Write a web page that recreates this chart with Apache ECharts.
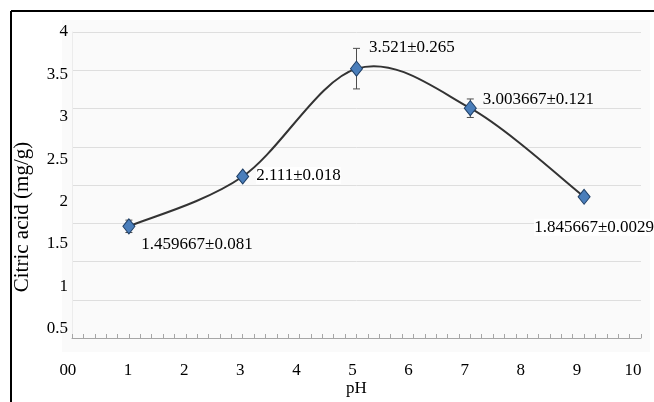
<!DOCTYPE html>
<html>
<head>
<meta charset="utf-8">
<script src="https://cdn.jsdelivr.net/npm/echarts@6/dist/echarts.min.js"></script>
<style>
  html, body { margin: 0; padding: 0; background: #fff; }
  #chart { width: 654px; height: 402px; }
</style>
</head>
<body>
<div id="chart"></div>
<script>
// Citric acid content at each pH, with standard deviations
const phValues = [1, 3, 5, 7, 9];
const citricAcid = [1.459667, 2.111, 3.521, 3.003667, 1.845667];
const stdDev = [0.081, 0.018, 0.265, 0.121, 0.0029];

// Axis ranges and tick steps
const xRange = [0, 10];
const xStep = 1;
const yRange = [0, 4];
const yStep = 0.5;

// Per-point label placement (offset from the marker)
const labelPlacement = [
  { position: 'right', offset: [1, 18] },
  { position: 'right', offset: [2, -1], backgroundColor: '#fff' },
  { position: 'right', offset: [1, -21] },
  { position: 'right', offset: [1, -9] },
  { position: 'bottom', offset: [10, 9], backgroundColor: '#fff' }
];

const FONT = '"Liberation Serif", "Times New Roman", serif';

const points = phValues.map((x, i) => ({
  value: [x, citricAcid[i]],
  label: Object.assign({
    show: true,
    formatter: citricAcid[i] + '\u00b1' + stdDev[i],
    color: '#000',
    fontFamily: FONT,
    fontSize: 17
  }, labelPlacement[i])
}));

const errorData = phValues.map((x, i) => [x, citricAcid[i], stdDev[i]]);
// one item per curve segment between consecutive points
const segmentData = phValues.slice(0, -1).map((x, i) => [x, citricAcid[i], i]);

const chart = echarts.init(document.getElementById('chart'), null, { renderer: 'canvas' });

chart.setOption({
  animation: false,
  backgroundColor: '#fff',
  textStyle: { fontFamily: FONT, color: '#000' },
  graphic: [
    // faint panel behind the plot
    { type: 'rect', z: -10, shape: { x: 62, y: 20, width: 588, height: 332 },
      style: { fill: '#fafafa' } },
    // frame lines
    { type: 'line', shape: { x1: 11, y1: 11, x2: 654, y2: 11 },
      style: { stroke: '#000', lineWidth: 2 } },
    { type: 'line', shape: { x1: 11, y1: 11, x2: 11, y2: 402 },
      style: { stroke: '#000', lineWidth: 2 } },
    // y axis title
    { type: 'text', x: 22, y: 217, rotation: Math.PI / 2,
      style: { text: 'Citric acid (mg/g)', fontFamily: FONT, fontSize: 21, fill: '#000',
               align: 'center', verticalAlign: 'middle' } }
  ],
  grid: [
    { left: 72, right: 13, top: 32, bottom: 60 },
    // tick-label layer
    { left: 72, right: 21, top: 32, bottom: 31 }
  ],
  xAxis: [
    {
      gridIndex: 0, type: 'value', min: xRange[0], max: xRange[1], interval: xStep,
      name: 'pH', nameLocation: 'middle', nameGap: 42,
      nameTextStyle: { fontFamily: FONT, fontSize: 17, color: '#000' },
      axisLine: { show: true, lineStyle: { color: '#a6a6a6', width: 1 } },
      axisTick: { show: true, inside: true, length: 4, lineStyle: { color: '#a6a6a6' } },
      minorTick: { show: true, splitNumber: 5, length: 4, lineStyle: { color: '#a6a6a6' } },
      axisLabel: { show: false },
      splitLine: { show: false }
    },
    {
      gridIndex: 1, type: 'value', min: xRange[0], max: xRange[1], interval: xStep,
      axisLine: { show: false }, axisTick: { show: false }, splitLine: { show: false },
      axisLabel: { show: true, margin: 0, verticalAlign: 'middle',
                   fontFamily: FONT, fontSize: 17, color: '#000' }
    }
  ],
  yAxis: [
    {
      gridIndex: 0, type: 'value', min: yRange[0], max: yRange[1], interval: yStep,
      axisLine: { show: true, lineStyle: { color: '#ececec' } },
      axisTick: { show: false },
      axisLabel: { show: false },
      splitLine: { show: true, lineStyle: { color: '#dedede', width: 1 } }
    },
    {
      gridIndex: 1, type: 'value', min: yRange[0], max: yRange[1], interval: yStep,
      axisLine: { show: false }, axisTick: { show: false }, splitLine: { show: false },
      axisLabel: { show: true, margin: 4, fontFamily: FONT, fontSize: 17, color: '#000' }
    }
  ],
  series: [
    {
      // error bars with caps
      type: 'custom',
      xAxisIndex: 0, yAxisIndex: 0,
      z: 1,
      encode: { x: 0, y: 1 },
      data: errorData,
      renderItem: function (params, api) {
        const x = api.value(0), y = api.value(1), e = api.value(2);
        const hi = api.coord([x, y + e]);
        const lo = api.coord([x, y - e]);
        const w = 3.5;
        const st = { stroke: '#4d4d4d', lineWidth: 1 };
        return {
          type: 'group',
          children: [
            { type: 'line', shape: { x1: hi[0], y1: hi[1], x2: lo[0], y2: lo[1] }, style: st },
            { type: 'line', shape: { x1: hi[0] - w, y1: hi[1], x2: hi[0] + w, y2: hi[1] }, style: st },
            { type: 'line', shape: { x1: lo[0] - w, y1: lo[1], x2: lo[0] + w, y2: lo[1] }, style: st }
          ]
        };
      }
    },
    {
      // smoothed connecting curve (Catmull-Rom segments through the points)
      type: 'custom',
      xAxisIndex: 0, yAxisIndex: 0,
      z: 2,
      encode: { x: 0, y: 1 },
      data: segmentData,
      renderItem: function (params, api) {
        const i = api.value(2);
        const n = phValues.length;
        const pt = k => {
          const j = Math.max(0, Math.min(n - 1, k));
          return api.coord([phValues[j], citricAcid[j]]);
        };
        const p0 = pt(i - 1), p1 = pt(i), p2 = pt(i + 1), p3 = pt(i + 2);
        const c1 = [p1[0] + (p2[0] - p0[0]) / 6, p1[1] + (p2[1] - p0[1]) / 6];
        const c2 = [p2[0] - (p3[0] - p1[0]) / 6, p2[1] - (p3[1] - p1[1]) / 6];
        return {
          type: 'bezierCurve',
          shape: { x1: p1[0], y1: p1[1], x2: p2[0], y2: p2[1],
                   cpx1: c1[0], cpy1: c1[1], cpx2: c2[0], cpy2: c2[1] },
          style: { stroke: '#333', lineWidth: 2, fill: null }
        };
      }
    },
    {
      type: 'scatter',
      xAxisIndex: 0, yAxisIndex: 0,
      z: 3,
      data: points,
      symbol: 'diamond',
      symbolSize: [12, 15],
      itemStyle: { color: '#4a7ebb', borderColor: '#1f3f66', borderWidth: 1, opacity: 1 }
    }
  ]
});
</script>
</body>
</html>
